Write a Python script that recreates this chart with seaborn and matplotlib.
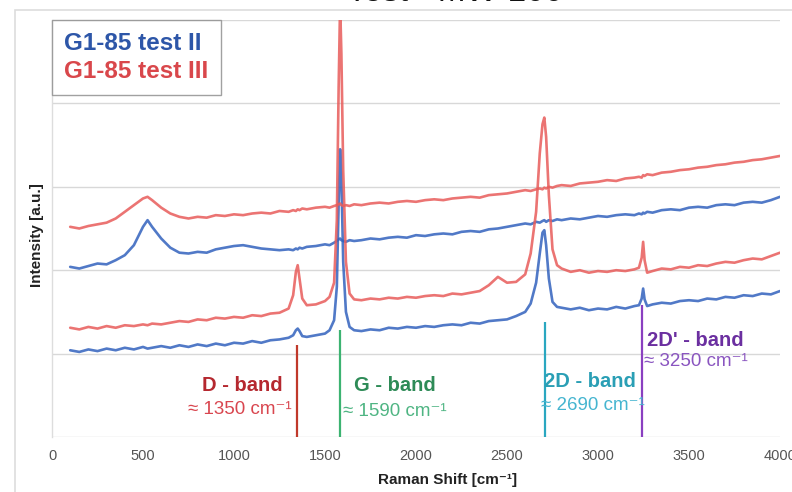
import numpy as np
import pandas as pd
import matplotlib
matplotlib.use("Agg")
import matplotlib.pyplot as plt
from matplotlib.patches import Rectangle
import seaborn as sns

# ---------------- data ----------------
raman_shift = [
    100, 150, 200, 250, 300, 350, 400, 450, 500, 525,
    550, 600, 650, 700, 750, 800, 850, 900, 950, 1000,
    1050, 1100, 1150, 1200, 1250, 1300, 1325, 1340, 1350, 1360,
    1375, 1400, 1450, 1500, 1525, 1550, 1565, 1575, 1583, 1590,
    1600, 1615, 1635, 1660, 1700, 1750, 1800, 1850, 1900, 1950,
    2000, 2050, 2100, 2150, 2200, 2250, 2300, 2350, 2400, 2450,
    2500, 2550, 2600, 2630, 2660, 2680, 2695, 2705, 2715, 2730,
    2750, 2775, 2800, 2850, 2900, 2950, 3000, 3050, 3100, 3150,
    3200, 3225, 3240, 3248, 3256, 3270, 3300, 3350, 3400, 3450,
    3500, 3550, 3600, 3650, 3700, 3750, 3800, 3850, 3900, 3950,
    4000,
]

test2_lower = [
    1.04, 1.02, 1.05, 1.03, 1.06, 1.04, 1.07, 1.05, 1.08, 1.06,
    1.07, 1.09, 1.07, 1.10, 1.08, 1.11, 1.09, 1.12, 1.10, 1.13,
    1.12, 1.15, 1.13, 1.16, 1.17, 1.19, 1.22, 1.28, 1.30, 1.27,
    1.21, 1.20, 1.22, 1.24, 1.28, 1.40, 1.80, 2.80, 3.45, 3.10,
    2.10, 1.50, 1.32, 1.28, 1.27, 1.29, 1.28, 1.31, 1.30, 1.32,
    1.31, 1.33, 1.32, 1.34, 1.35, 1.34, 1.37, 1.36, 1.39, 1.40,
    1.41, 1.45, 1.50, 1.60, 1.85, 2.20, 2.45, 2.48, 2.30, 1.90,
    1.62, 1.56, 1.55, 1.53, 1.55, 1.52, 1.54, 1.53, 1.56, 1.54,
    1.57, 1.58, 1.66, 1.78, 1.65, 1.57, 1.59, 1.61, 1.60, 1.63,
    1.64, 1.63, 1.66, 1.65, 1.68, 1.67, 1.70, 1.69, 1.72, 1.71,
    1.75,
]

test3_lower = [
    1.31, 1.29, 1.32, 1.30, 1.33, 1.31, 1.34, 1.33, 1.35, 1.34,
    1.36, 1.35, 1.37, 1.39, 1.38, 1.41, 1.40, 1.43, 1.42, 1.44,
    1.43, 1.46, 1.45, 1.48, 1.49, 1.54, 1.70, 1.98, 2.06, 1.90,
    1.66, 1.58, 1.59, 1.63, 1.68, 1.85, 2.60, 4.20, 5.20, 4.60,
    3.20, 2.10, 1.72, 1.65, 1.64, 1.66, 1.65, 1.67, 1.66, 1.68,
    1.67, 1.69, 1.70, 1.69, 1.72, 1.71, 1.73, 1.75, 1.82, 1.92,
    1.85, 1.86, 1.95, 2.20, 2.70, 3.40, 3.75, 3.83, 3.60, 2.90,
    2.25, 2.06, 2.02, 1.98, 2.00, 1.97, 1.99, 1.98, 2.00, 1.99,
    2.01, 2.03, 2.15, 2.34, 2.12, 1.97, 1.99, 2.02, 2.01, 2.04,
    2.03, 2.06, 2.05, 2.08, 2.10, 2.09, 2.12, 2.14, 2.13, 2.17,
    2.21,
]

test2_upper = [
    2.04, 2.02, 2.05, 2.08, 2.07, 2.12, 2.18, 2.30, 2.52, 2.60,
    2.52, 2.38, 2.27, 2.21, 2.20, 2.22, 2.21, 2.25, 2.27, 2.29,
    2.30, 2.28, 2.26, 2.25, 2.24, 2.25, 2.24, 2.26, 2.25, 2.27,
    2.26, 2.28, 2.29, 2.31, 2.30, 2.33, 2.35, 2.37, 2.38, 2.36,
    2.35, 2.34, 2.36, 2.35, 2.36, 2.38, 2.37, 2.39, 2.40, 2.39,
    2.42, 2.41, 2.43, 2.44, 2.43, 2.46, 2.47, 2.46, 2.49, 2.50,
    2.52, 2.54, 2.56, 2.55, 2.58, 2.57, 2.59, 2.60, 2.58, 2.60,
    2.59, 2.61, 2.60, 2.62, 2.61, 2.63, 2.65, 2.64, 2.66, 2.67,
    2.66, 2.68, 2.67, 2.69, 2.68, 2.70, 2.69, 2.72, 2.73, 2.72,
    2.75, 2.76, 2.75, 2.78, 2.79, 2.78, 2.81, 2.82, 2.81, 2.84,
    2.88,
]

test3_upper = [
    2.52, 2.50, 2.53, 2.55, 2.57, 2.62, 2.70, 2.78, 2.86, 2.88,
    2.84, 2.75, 2.68, 2.64, 2.62, 2.64, 2.63, 2.66, 2.65, 2.67,
    2.66, 2.68, 2.69, 2.68, 2.71, 2.70, 2.72, 2.71, 2.73, 2.72,
    2.74, 2.73, 2.75, 2.76, 2.75, 2.77, 2.78, 2.79, 2.80, 2.78,
    2.77, 2.78, 2.77, 2.79, 2.78, 2.80, 2.81, 2.80, 2.82, 2.83,
    2.82, 2.84, 2.85, 2.84, 2.86, 2.87, 2.88, 2.87, 2.90, 2.91,
    2.92, 2.94, 2.96, 2.95, 2.97, 2.98, 2.97, 2.99, 2.98, 3.00,
    2.99, 3.01, 3.02, 3.01, 3.04, 3.05, 3.06, 3.08, 3.07, 3.10,
    3.11, 3.12, 3.11, 3.14, 3.13, 3.15, 3.14, 3.17, 3.18, 3.20,
    3.21, 3.23, 3.24, 3.26, 3.27, 3.29, 3.30, 3.32, 3.33, 3.35,
    3.37,
]

series_names = ["G1-85 test II", "G1-85 test III"]

band_names = ["D - band", "G - band", "2D - band", "2D' - band"]
band_values = ["≈ 1350 cm⁻¹", "≈ 1590 cm⁻¹", "≈ 2690 cm⁻¹", "≈ 3250 cm⁻¹"]
band_positions = [1345, 1585, 2710, 3240]
band_line_tops = [1.10, 1.28, 1.38, 1.58]

x_ticks = [0, 500, 1000, 1500, 2000, 2500, 3000, 3500, 4000]

# ---------------- build long-form table ----------------
frames = []
for name, trace, vals in [
    (series_names[1], "lower_III", test3_lower),
    (series_names[0], "lower_II", test2_lower),
    (series_names[1], "upper_III", test3_upper),
    (series_names[0], "upper_II", test2_upper),
]:
    frames.append(pd.DataFrame({"shift": raman_shift, "intensity": vals,
                                "sample": name, "trace": trace}))
df = pd.concat(frames, ignore_index=True)

# ---------------- style ----------------
sns.set_theme(style="white")
plt.rcParams["font.family"] = ["Liberation Sans", "DejaVu Sans"]

blue = "#3262bd"
red = "#e85c5a"

fig = plt.figure(figsize=(7.92, 4.92), dpi=100)
ax = fig.add_axes([52 / 792, 1 - 437 / 492, 728 / 792, 417 / 492])

sns.lineplot(data=df, x="shift", y="intensity", hue="sample", units="trace",
             estimator=None, sort=False,
             palette={series_names[0]: blue, series_names[1]: red},
             hue_order=series_names, linewidth=1.9, alpha=0.85, ax=ax,
             legend=True)

ax.set_xlim(0, 4000)
ax.set_ylim(0, 5.0)
ax.set_yticks([0, 1, 2, 3, 4, 5])
ax.set_yticklabels([])
ax.set_xticks(x_ticks)
ax.set_xticklabels([str(t) for t in x_ticks])
ax.tick_params(axis="both", length=0)
ax.tick_params(axis="x", labelsize=10.5, labelcolor="#555555", pad=9)
ax.yaxis.grid(True, color="#d8d8d8", linewidth=1.0)
ax.xaxis.grid(False)
for s in ["top", "right", "bottom"]:
    ax.spines[s].set_visible(False)
ax.spines["left"].set_color("#dddddd")
ax.spines["left"].set_linewidth(1.0)

ax.set_xlabel("Raman Shift [cm⁻¹]", fontsize=11, fontweight="bold", color="#222222")
ax.set_ylabel("Intensity [a.u.]", fontsize=11, fontweight="bold", color="#222222")
ax.xaxis.set_label_coords(0.543, -0.103)
ax.xaxis.label.set_va("center")
ax.yaxis.set_label_coords(-0.021, 0.484)
ax.yaxis.label.set_va("center")

# legend: coloured text only
leg = ax.legend(loc="upper left", bbox_to_anchor=(0.0, 1.0), borderaxespad=0,
                frameon=True, fancybox=False, handlelength=0, handletextpad=0,
                fontsize=17.5, borderpad=0.5, labelspacing=0.2)
leg.get_frame().set_edgecolor("#8a8a8a")
leg.get_frame().set_linewidth(1.0)
for h in leg.legend_handles:
    h.set_visible(False)
for txt, col in zip(leg.get_texts(), ["#2d56a8", "#d9474b"]):
    txt.set_color(col)
    txt.set_fontweight("bold")

# band marker lines
line_cols = ["#c0392b", "#3cb371", "#2aa7c0", "#8a3fc0"]
for pos, top, col in zip(band_positions, band_line_tops, line_cols):
    ax.vlines(pos, 0, top, colors=col, linewidth=1.6)

name_cols = ["#b5282f", "#2e8b57", "#2a9fb5", "#6b2fa0"]
val_cols = ["#d9464f", "#4fb583", "#45b5d0", "#8a55c0"]
name_xy = [(1269, 0.62, "right"), (1660, 0.62, "left"), (2705, 0.66, "left"), (3270, 1.16, "left")]
val_xy = [(1319, 0.33, "right"), (1599, 0.31, "left"), (2688, 0.38, "left"), (3255, 0.91, "left")]
for nm, vl, (nx, ny, nha), (vx, vy, vha), nc, vc in zip(
        band_names, band_values, name_xy, val_xy, name_cols, val_cols):
    ax.text(nx, ny, nm, ha=nha, va="center", fontsize=14.5, fontweight="bold", color=nc)
    ax.text(vx, vy, vl, ha=vha, va="center", fontsize=13.5, color=vc)

# outer frame and clipped title
fig.patches.append(Rectangle((15 / 792, -0.1), 1.2, 1.1 - 10 / 492,
                             transform=fig.transFigure, fill=False,
                             edgecolor="#dddddd", linewidth=1.2))
fig.text(0.575, 1 - 1 / 492, "Test - MW-100", ha="center", va="baseline",
         fontsize=24, color="#111111")

fig.savefig("out.png", dpi=100)
